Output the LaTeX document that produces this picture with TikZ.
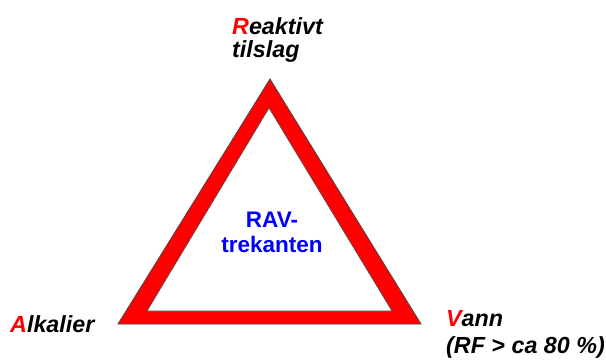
\documentclass[tikz,border=0pt]{standalone}
\usepackage{fontspec}
\setmainfont{Liberation Sans}
\definecolor{pred}{RGB}{255,0,0}
\definecolor{pblue}{RGB}{0,0,255}
\definecolor{edge}{RGB}{70,70,70}
\begin{document}
\begin{tikzpicture}[x=1pt,y=-1pt,
  lbl/.style={inner sep=0pt,anchor=base west,font=\fontsize{23.3}{26}\selectfont\bfseries\itshape},
  rav/.style={inner sep=0pt,anchor=base,text=pblue,font=\fontsize{22.5}{26}\selectfont\bfseries}]
\useasboundingbox (0,0) rectangle (606,360);
\fill[white] (0,0) rectangle (606,360);
% triangle
\coordinate (o1) at (118,324);
\coordinate (o2) at (421,324);
\coordinate (o3) at (270,79);
\coordinate (i1) at (147,311);
\coordinate (i2) at (392,311);
\coordinate (i3) at (269,108);
\filldraw[fill=pred,draw=edge,line width=0.8pt,line join=miter] (o1) -- (o2) -- (o3) -- cycle;
\filldraw[fill=white,draw=edge,line width=0.6pt,line join=miter] (i1) -- (i2) -- (i3) -- cycle;
% labels
\node[lbl] (r1) at (232,34) {\textcolor{pred}{R}eaktivt};
\node[lbl] (r2) at (232,57) {tilslag};
\node[lbl] (a1) at (10,332) {\textcolor{pred}{A}lkalier};
\node[lbl] (v1) at (446,326) {\textcolor{pred}{V}ann};
\node[lbl] (v2) at (446,353) {(RF > ca 80 \%)};
\node[rav] (t1) at (272,227) {RAV-};
\node[rav] (t2) at (272,252) {trekanten};
\end{tikzpicture}
\end{document}
